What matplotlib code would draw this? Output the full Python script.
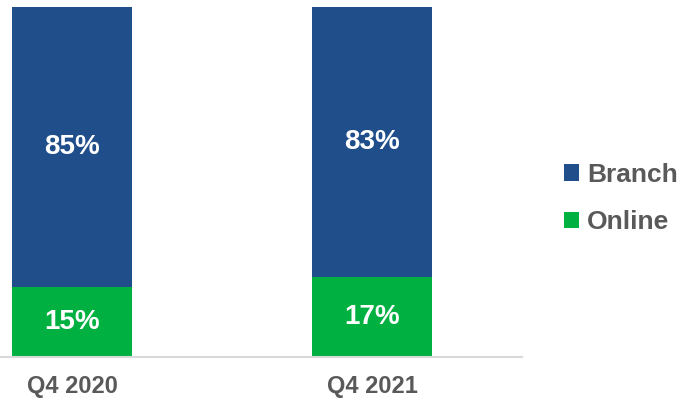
import matplotlib.pyplot as plt
import numpy as np

plt.rcParams['font.family'] = ['Liberation Sans', 'DejaVu Sans']

quarters = ["Q4 2020", "Q4 2021"]
online = [15, 17]
branch = [85, 83]
series_names = ["Branch", "Online"]

blue = "#1F4E8B"
green = "#00B142"
gray = "#595959"

fig = plt.figure(figsize=(6.84, 4.01), dpi=100)
ax = fig.add_axes([0.0, 0.1097, 0.7632, 0.8728])

x = np.arange(len(quarters))
ytop = 74.5
b1 = ax.bar(x, online, width=0.4, color=green, label="Online")
b2 = ax.bar(x, branch, width=0.4, bottom=online, color=blue, label="Branch")

for i in range(len(quarters)):
    ax.text(x[i], online[i] / 2, f"{online[i]}%", ha="center", va="center",
            color="white", fontsize=20, fontweight="bold")
    top = min(online[i] + branch[i], ytop)
    ax.text(x[i], (online[i] + top) / 2, f"{branch[i]}%", ha="center", va="center",
            color="white", fontsize=20, fontweight="bold")

ax.set_xlim(-0.24, 1.5)
ax.set_ylim(0, ytop)
ax.set_xticks(x)
ax.set_xticklabels(quarters, fontsize=17, fontweight="bold", color=gray)
ax.tick_params(axis="x", length=0, pad=13)
ax.set_yticks([])
for s in ["top", "left", "right"]:
    ax.spines[s].set_visible(False)
ax.spines["bottom"].set_color("#D9D9D9")
ax.spines["bottom"].set_linewidth(1.5)

leg = fig.legend([b2, b1], series_names, loc="center left",
                 bbox_to_anchor=(0.824, 0.505), frameon=False,
                 handlelength=0.58, handleheight=0.58, handletextpad=0.3,
                 labelspacing=0.9, borderpad=0, borderaxespad=0,
                 prop={"size": 19, "weight": "bold"}, labelcolor=gray)

fig.savefig("out.png", dpi=100)
